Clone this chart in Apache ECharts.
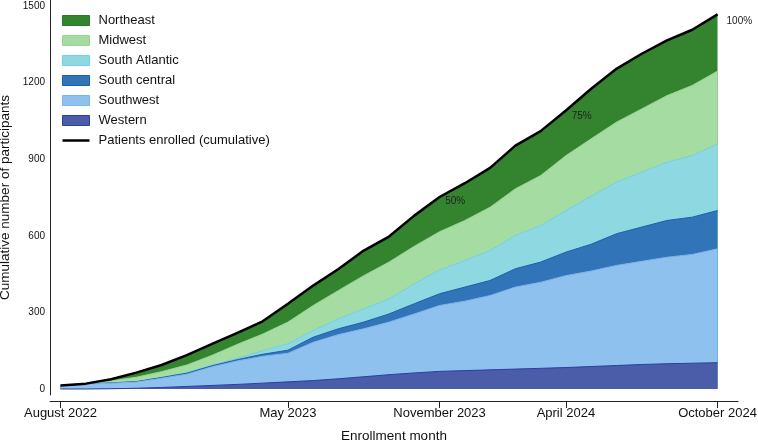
<!DOCTYPE html>
<html>
<head>
<meta charset="utf-8">
<script src="https://cdn.jsdelivr.net/npm/echarts@6/dist/echarts.min.js"></script>
<style>
  html, body { margin: 0; padding: 0; background: #fff; }
  #main { width: 758px; height: 440px; }
</style>
</head>
<body>
<div id="main"></div>
<script>
// monthly new enrollment per region, Aug 2022 .. Oct 2024 (stacked below)
var months = [
  "August 2022", "September 2022", "October 2022", "November 2022", "December 2022",
  "January 2023", "February 2023", "March 2023", "April 2023", "May 2023",
  "June 2023", "July 2023", "August 2023", "September 2023", "October 2023",
  "November 2023", "December 2023", "January 2024", "February 2024", "March 2024",
  "April 2024", "May 2024", "June 2024", "July 2024", "August 2024",
  "September 2024", "October 2024"
];
var tickLabels = ["August 2022", "May 2023", "November 2023", "April 2024", "October 2024"];

var western       = [0, 0, 1, 3, 6, 10, 14, 18, 23, 28, 33, 40, 48, 56, 63, 69, 72, 75, 78, 81, 84, 88, 92, 96, 99, 101, 103];
var southwest     = [13, 19, 22, 24, 36, 48, 73, 92, 105, 112, 150, 173, 188, 206, 231, 258, 272, 291, 321, 337, 360, 374, 392, 404, 417, 426, 446];
var southCentral  = [0, 0, 1, 2, 3, 4, 4, 5, 8, 12, 20, 23, 26, 32, 40, 46, 55, 59, 72, 79, 92, 105, 124, 134, 144, 146, 150];
var southAtlantic = [0, 0, 0, 0, 1, 2, 3, 5, 14, 25, 26, 39, 52, 59, 78, 93, 104, 117, 130, 143, 163, 188, 202, 215, 228, 241, 261];
var midwest       = [0, 1, 8, 17, 22, 30, 38, 55, 65, 85, 98, 111, 130, 144, 147, 150, 157, 170, 183, 196, 215, 225, 235, 248, 261, 275, 285];
var northeast     = [1, 1, 6, 18, 26, 39, 45, 45, 50, 72, 78, 84, 98, 100, 120, 136, 146, 154, 169, 174, 177, 196, 209, 216, 216, 218, 222];

var yTicks = [0, 300, 600, 900, 1200, 1500];
var milestones = [0.5, 0.75, 1.0];

// bottom to top
var regions = [
  { name: "Western",        data: western,       fill: "#4b5ca8", line: "#2b3f9e" },
  { name: "Southwest",      data: southwest,     fill: "#8fc1ee", line: "#7db4ea" },
  { name: "South central",  data: southCentral,  fill: "#3174b8", line: "#1d5eb0" },
  { name: "South Atlantic", data: southAtlantic, fill: "#8dd8e1", line: "#77cfe6" },
  { name: "Midwest",        data: midwest,       fill: "#a4dca1", line: "#98d694" },
  { name: "Northeast",      data: northeast,     fill: "#33832f", line: "#2b7a29" }
];

// running stack tops
var running = months.map(function () { return 0; });
regions.forEach(function (r) {
  r.top = r.data.map(function (v, i) { running[i] += v; return running[i]; });
});
var total = running.slice();

// where the cumulative line reaches a fraction of the final total
function crossing(frac) {
  var target = total[total.length - 1] * frac;
  for (var i = 0; i < total.length; i++) {
    if (total[i] >= target) {
      if (i === 0) return [0, target];
      var t = (target - total[i - 1]) / (total[i] - total[i - 1]);
      return [i - 1 + t, target];
    }
  }
  return [total.length - 1, target];
}

var font = "Liberation Sans, Arial, Helvetica, sans-serif";
var pctOffsets = [[7, 0], [-2, 8], [4, 7]];

// each area filled down to zero; higher layers drawn underneath
var series = regions.map(function (r, k) {
  return {
    name: r.name,
    type: "line",
    symbol: "none",
    z: 2 + (regions.length - k) * 0.01,
    data: r.top.map(function (v, i) { return [i, v]; }),
    lineStyle: { color: r.line, width: 1 },
    itemStyle: { color: r.fill },
    areaStyle: { color: r.fill, opacity: 1, origin: "auto" }
  };
});
series.reverse();

series.push({
  name: "Patients enrolled (cumulative)",
  type: "line",
  symbol: "none",
  z: 5,
  data: total.map(function (v, i) { return [i, v]; }),
  lineStyle: { color: "#000", width: 2.5 },
  itemStyle: { color: "#000" },
  markPoint: {
    symbol: "circle",
    symbolSize: 0,
    animation: false,
    data: milestones.map(function (f, k) {
      return {
        coord: crossing(f),
        label: {
          show: true,
          position: "right",
          offset: pctOffsets[k],
          formatter: Math.round(f * 100) + "%",
          fontSize: 10,
          color: "#222",
          fontFamily: font
        }
      };
    })
  }
});

var legendOrder = ["Northeast", "Midwest", "South Atlantic", "South central", "Southwest", "Western"];
var legendData = legendOrder.map(function (n) {
  var r = regions.filter(function (x) { return x.name === n; })[0];
  return { name: n, icon: "rect", itemStyle: { color: r.fill, borderColor: r.line, borderWidth: 1 } };
});
legendData.push({ name: "Patients enrolled (cumulative)", icon: "path://M0,0H27V2.5H0Z", itemStyle: { color: "#000" } });

var tickIdx = tickLabels.map(function (l) { return months.indexOf(l); });

var chart = echarts.init(document.getElementById("main"));
var option = {
  animation: false,
  backgroundColor: "#fff",
  grid: { left: 50, right: 20, top: 0, bottom: 45, containLabel: false, outerBoundsMode: "none" },
  legend: {
    orient: "vertical",
    left: 62,
    top: 14,
    itemWidth: 27,
    itemHeight: 10,
    itemGap: 7,
    padding: 0,
    symbolKeepAspect: true,
    textStyle: { fontSize: 13, color: "#111", fontFamily: font, padding: [0, 0, 0, 4] },
    data: legendData
  },
  xAxis: {
    type: "value",
    min: -0.415,
    max: 26.81,
    offset: 6,
    name: "Enrollment month",
    nameLocation: "middle",
    nameGap: 28,
    nameTextStyle: { fontSize: 13.5, color: "#111", fontFamily: font },
    axisLine: { onZero: false, lineStyle: { color: "#222", width: 1 } },
    axisTick: { show: true, length: 7, customValues: tickIdx, lineStyle: { color: "#222" } },
    axisLabel: {
      customValues: tickIdx,
      margin: 6,
      fontSize: 13,
      color: "#111",
      fontFamily: font,
      formatter: function (v) { return months[Math.round(v)]; }
    },
    splitLine: { show: false }
  },
  yAxis: {
    type: "value",
    min: -23.5,
    max: 1523.5,
    name: "Cumulative number of participants",
    nameLocation: "middle",
    nameGap: 33,
    nameTextStyle: { fontSize: 13.5, color: "#111", fontFamily: font },
    axisLine: { show: true, onZero: false, lineStyle: { color: "#222", width: 1 } },
    axisTick: { show: false },
    axisLabel: {
      customValues: yTicks,
      margin: 5,
      fontSize: 10,
      color: "#111",
      fontFamily: font,
      formatter: function (v) { return String(v); }
    },
    splitLine: { show: false }
  },
  series: series
};
chart.setOption(option);
</script>
</body>
</html>
